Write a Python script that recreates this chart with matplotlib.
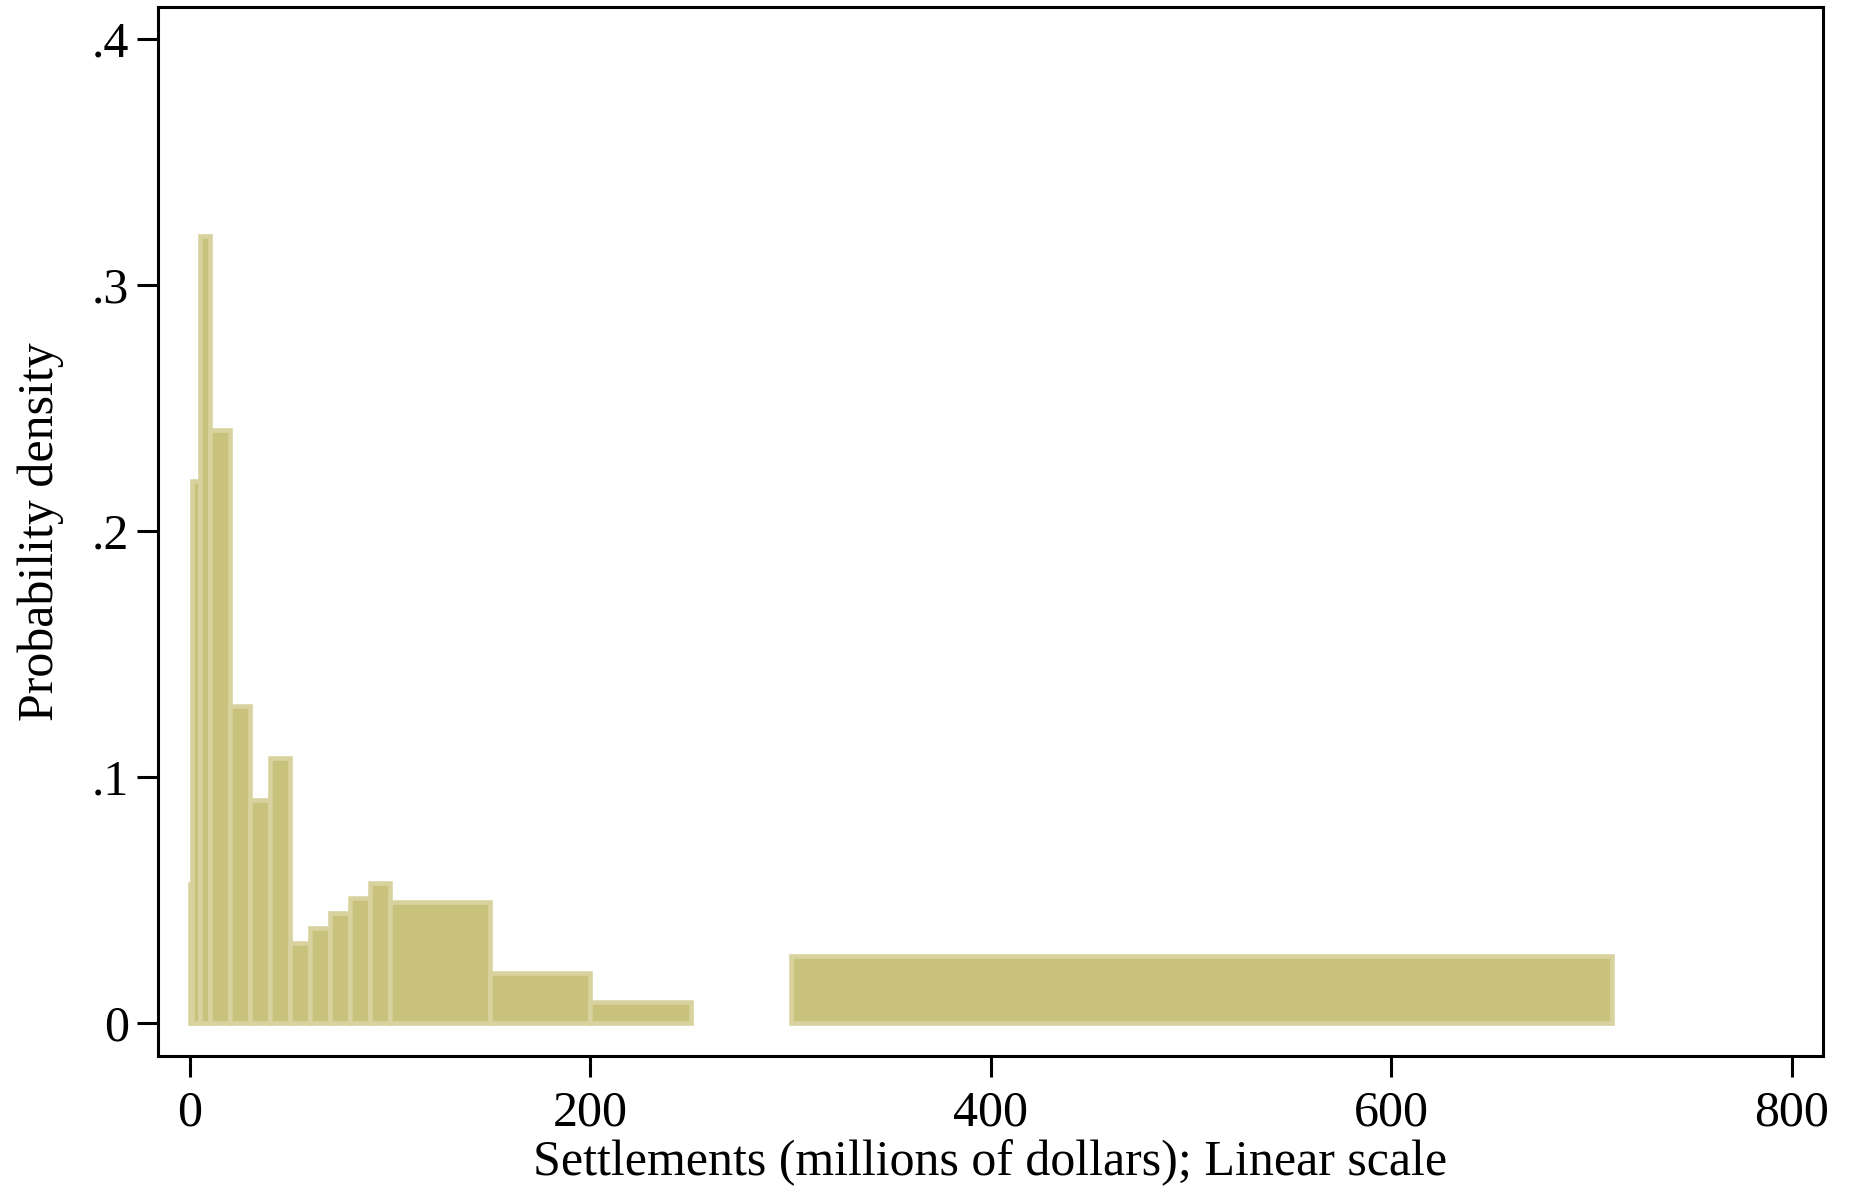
import matplotlib
matplotlib.use("Agg")
import matplotlib.pyplot as plt

# bins of settlement size (millions of dollars) and the density in each
bin_lo = [0, 1, 5, 10, 20, 30, 40, 50, 60, 70, 80, 90, 100, 150, 200, 300]
bin_hi = [1, 5, 10, 20, 30, 40, 50, 60, 70, 80, 90, 100, 150, 200, 250, 710]
density = [0.0565, 0.2205, 0.320, 0.241, 0.1287, 0.0908, 0.1076, 0.0325, 0.0385,
           0.0449, 0.0508, 0.0570, 0.0492, 0.0204, 0.0084, 0.0273]

x_ticks = [0, 200, 400, 600, 800]
y_ticks = [0, 0.1, 0.2, 0.3, 0.4]
y_tick_labels = ["0", ".1", ".2", ".3", ".4"]

plt.rcParams['font.family'] = ['Liberation Serif', 'DejaVu Serif']

fig = plt.figure(figsize=(18.52, 11.91), dpi=100)
ax = fig.add_axes([0.0853, 0.1136, 0.9842 - 0.0853, 0.9939 - 0.1136])

widths = [h - l for l, h in zip(bin_lo, bin_hi)]
ax.bar(bin_lo, density, width=widths, align='edge',
       color='#c9c27c', edgecolor='#d8d29f', linewidth=3.3)

ax.set_xlim(-16, 815.5)
ax.set_ylim(-0.0133, 0.4129)

ax.set_xticks(x_ticks)
ax.set_xticklabels([str(t) for t in x_ticks])
ax.set_yticks(y_ticks)
ax.set_yticklabels(y_tick_labels)

for side in ['left', 'right', 'top', 'bottom']:
    ax.spines[side].set_linewidth(2.2)
    ax.spines[side].set_color('black')

ax.tick_params(axis='both', length=15, width=2.2, labelsize=36, color='black')
ax.tick_params(axis='x', pad=10)
ax.tick_params(axis='y', pad=6)

ax.set_xlabel("Settlements (millions of dollars); Linear scale", fontsize=36, labelpad=2)
ax.set_ylabel("Probability density", fontsize=36, labelpad=20)

fig.savefig("out.png", dpi=100)
